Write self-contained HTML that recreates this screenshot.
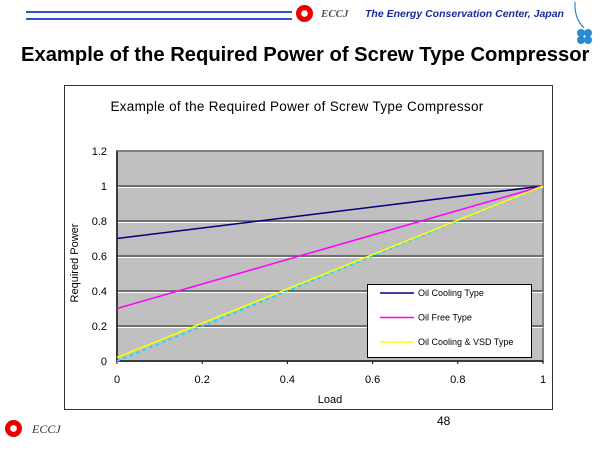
<!DOCTYPE html>
<html><head><meta charset="utf-8"><style>
body{margin:0;width:600px;height:450px;background:#fff;overflow:hidden;font-family:"Liberation Sans",sans-serif;position:relative}
.a{position:absolute}
</style></head><body>
<div class="a" style="left:26px;top:11px;width:266px;height:5px;border-top:2px solid #3050d0;border-bottom:2px solid #3050d0"></div>
<div class="a" style="left:296px;top:5px;width:17px;height:17px;border-radius:50%;background:radial-gradient(circle,#fff 25%,#e00 30%,#d00)"></div>
<div class="a" style="left:321px;top:8px;font:italic bold 11px 'Liberation Serif',serif;color:#555">ECCJ</div>
<div class="a" style="left:365px;top:8px;font:italic bold 10.5px 'Liberation Sans',sans-serif;color:#1a2a9a;white-space:nowrap">The Energy Conservation Center, Japan</div>
<svg class="a" style="left:568px;top:0" width="30" height="48"><path d="M7 2 Q6 18 16 28" stroke="#2a8ad0" fill="none" stroke-width="1.2"/><circle cx="13" cy="33" r="4" fill="#2a8ad0"/><circle cx="20" cy="33" r="4" fill="#2a8ad0"/><circle cx="13" cy="40" r="4" fill="#2a8ad0"/><circle cx="20" cy="40" r="4" fill="#2a8ad0"/></svg>
<div class="a" style="left:21px;top:44px;font:bold 20.2px 'Liberation Sans',sans-serif;color:#000;white-space:nowrap">Example of the Required Power of Screw Type Compressor</div>
<div class="a" style="left:437px;top:414px;font:12px 'Liberation Sans',sans-serif">48</div>
<div class="a" style="left:5px;top:420px;width:17px;height:17px;border-radius:50%;background:radial-gradient(circle,#fff 25%,#e00 30%,#d00)"></div>
<div class="a" style="left:32px;top:422px;font:italic 12px 'Liberation Serif',serif;color:#333">ECCJ</div>
<svg class="a" id="chart" style="left:0;top:0" width="600" height="450"></svg>
<script>
const xTicks=[0,0.2,0.4,0.6,0.8,1];
const yTicks=[0,0.2,0.4,0.6,0.8,1,1.2];
const loads=[0,1];
const oilCooling=[0.7,1];
const oilFree=[0.3,1];
const vsd=[0.02,1];
const vsdRef=[0,1];
const names=["Oil Cooling Type","Oil Free Type","Oil Cooling & VSD Type"];
const colors=["#000080","#ff00ff","#ffff00"];
const L=117,R=543,T=151,B=361;
const X=v=>L+(R-L)*v, Y=v=>B-(B-T)*v/1.2;
const svg=document.getElementById('chart');const NS='http://www.w3.org/2000/svg';
function mk(t,a,p){const e=document.createElementNS(NS,t);for(const k in a)e.setAttribute(k,a[k]);(p||svg).appendChild(e);return e;}
let e;
e=mk('rect',{x:64.5,y:85.5,width:488,height:324,fill:'#fff',stroke:'#333'});


e=mk('text',{x:297,y:111,'text-anchor':'middle','font-size':13.5,'font-family':'Liberation Sans,sans-serif','letter-spacing':0.3});e.textContent='Example of the Required Power of Screw Type Compressor';


e=mk('rect',{x:L,y:T,width:R-L,height:B-T,fill:'#c0c0c0',stroke:'#808080','stroke-width':2});


yTicks.forEach(v=>{
 if(v>0&&v<1.2){e=mk('line',{x1:L,x2:R,y1:Y(v),y2:Y(v),stroke:'#555','stroke-width':1.5});
 
 
 mk('line',{x1:L,x2:R,y1:Y(v)+1.5,y2:Y(v)+1.5,stroke:'#fff','stroke-width':1});}
 e=mk('text',{x:L-10,y:Y(v)+4,'text-anchor':'end','font-size':11,'font-family':'Liberation Sans,sans-serif'});e.textContent=v;
 
 
});
xTicks.forEach(v=>{
 e=mk('text',{x:X(v),y:B+22,'text-anchor':'middle','font-size':11,'font-family':'Liberation Sans,sans-serif'});e.textContent=v;
 
 
 mk('line',{x1:X(v),x2:X(v),y1:B,y2:B+3,stroke:'#000'});
});
mk('line',{x1:L,x2:L,y1:T,y2:B,stroke:'#222','stroke-width':1.5});
mk('line',{x1:L,x2:R,y1:B,y2:B,stroke:'#222','stroke-width':1.5});
e=mk('text',{x:330,y:403,'text-anchor':'middle','font-size':11,'font-family':'Liberation Sans,sans-serif'});e.textContent='Load';


e=mk('text',{x:78,y:263,'text-anchor':'middle','font-size':11,'font-family':'Liberation Sans,sans-serif',transform:'rotate(-90 78 263)'});e.textContent='Required Power';


e=mk('line',{x1:X(loads[0]),y1:Y(vsdRef[0]),x2:X(loads[1]),y2:Y(vsdRef[1]),stroke:'#00e0ff','stroke-width':2,'stroke-dasharray':'3,4'});


[oilCooling,oilFree,vsd].forEach((s,i)=>{
 e=mk('polyline',{points:loads.map((x,j)=>X(x)+','+Y(s[j])).join(' '),fill:'none',stroke:colors[i],'stroke-width':1.5});
 
 
});
e=mk('rect',{x:367.5,y:284.5,width:164,height:73,fill:'#fff',stroke:'#000'});


names.forEach((n,i)=>{
 const y=293+i*24.5;
 mk('line',{x1:380,x2:414,y1:y,y2:y,stroke:colors[i],'stroke-width':1.5});
 e=mk('text',{x:418,y:y+3,'font-size':9,'font-family':'Liberation Sans,sans-serif'});e.textContent=n;
 
 
});
</script>
</body></html>
